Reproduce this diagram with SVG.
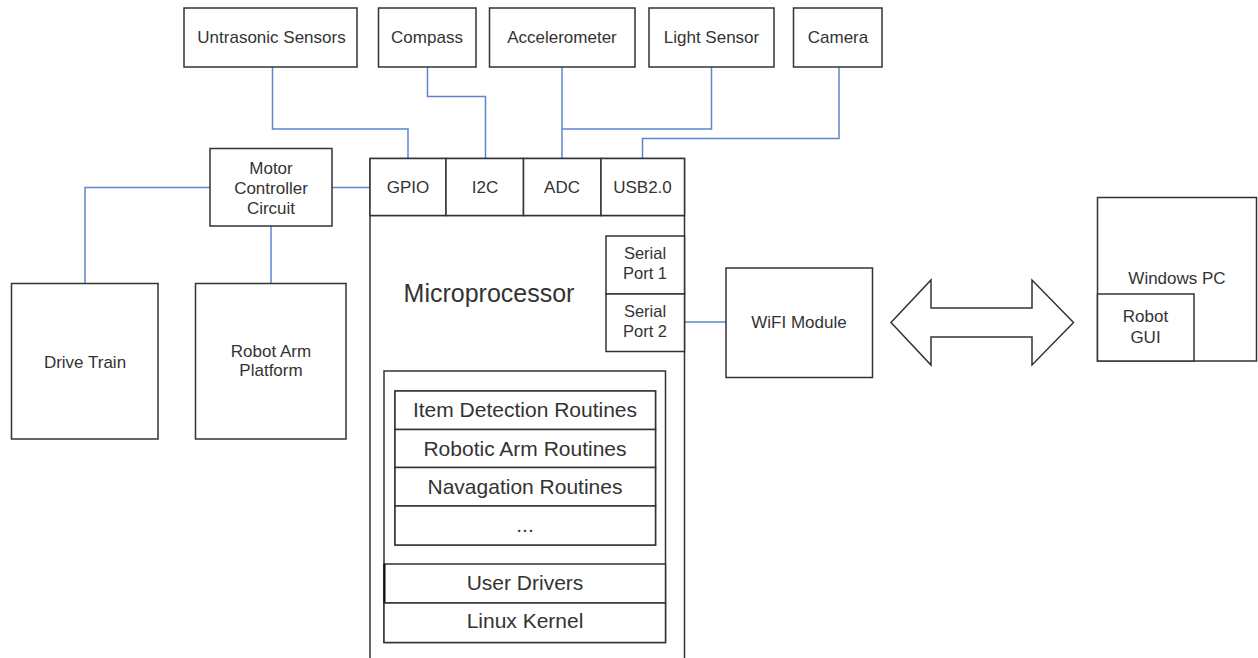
<svg xmlns="http://www.w3.org/2000/svg" width="1258" height="658" viewBox="0 0 1258 658">
<style>
.box{fill:#fff;stroke:#333;stroke-width:1.5}
.open{fill:none;stroke:#333;stroke-width:1.5}
.wire{fill:none;stroke:#5a87cc;stroke-width:1.5}
text{font-family:"Liberation Sans",Arial,sans-serif;fill:#333;text-anchor:middle}
.t17{font-size:17px}
.t16{font-size:16.5px}
.t21{font-size:21px}
.t25{font-size:25px}
</style>
<rect width="1258" height="658" fill="#fff"/>
<g id="connectors">
<polyline class="wire" points="272.5,67 272.5,129 408,129 408,158"/>
<polyline class="wire" points="427.5,67 427.5,96.5 485.5,96.5 485.5,158"/>
<polyline class="wire" points="562,67 562,158"/>
<polyline class="wire" points="711.5,67 711.5,129 562,129"/>
<polyline class="wire" points="839,67 839,138.5 642.5,138.5 642.5,158"/>
<polyline class="wire" points="331,187.5 370,187.5"/>
<polyline class="wire" points="210,187.5 85,187.5 85,283"/>
<polyline class="wire" points="271,226 271,283"/>
<polyline class="wire" points="684,322 726,322"/>
</g>
<g id="untrasonic"><rect class="box" x="184" y="8" width="173" height="59"/><text class="t17" x="271.5" y="43">Untrasonic Sensors</text></g>
<g id="compass"><rect class="box" x="378.5" y="8" width="97.5" height="59"/><text class="t17" x="427" y="43">Compass</text></g>
<g id="accelerometer"><rect class="box" x="489.5" y="8" width="145.5" height="59"/><text class="t17" x="562" y="43">Accelerometer</text></g>
<g id="lightsensor"><rect class="box" x="649" y="8" width="125" height="59"/><text class="t17" x="711.5" y="43">Light Sensor</text></g>
<g id="camera"><rect class="box" x="793.5" y="8" width="88.5" height="59"/><text class="t17" x="838" y="43">Camera</text></g>
<g id="motor"><rect class="box" x="210" y="148.5" width="122" height="77.5"/><text class="t17" x="271" y="174">Motor</text><text class="t17" x="271" y="194">Controller</text><text class="t17" x="271" y="214">Circuit</text></g>
<g id="drivetrain"><rect class="box" x="11.5" y="283.5" width="146.5" height="155.5"/><text class="t17" x="85" y="368">Drive Train</text></g>
<g id="robotarm"><rect class="box" x="195.5" y="283.5" width="150.5" height="155.5"/><text class="t17" x="271" y="357">Robot Arm</text><text class="t17" x="271" y="376">Platform</text></g>
<g id="microprocessor">
<path class="open" d="M370,660 V158.5 H684.5 V660"/>
<line class="open" x1="370" y1="215.5" x2="684.5" y2="215.5"/>
<text class="t25" x="489" y="302">Microprocessor</text>
</g>
<g id="gpio"><rect class="box" x="370" y="158.5" width="76" height="57"/><text class="t17" x="408" y="193">GPIO</text></g>
<g id="i2c"><rect class="box" x="446" y="158.5" width="77.5" height="57"/><text class="t17" x="485" y="193">I2C</text></g>
<g id="adc"><rect class="box" x="523.5" y="158.5" width="77.5" height="57"/><text class="t17" x="562" y="193">ADC</text></g>
<g id="usb"><rect class="box" x="601" y="158.5" width="83.5" height="57"/><text class="t17" x="642.5" y="193">USB2.0</text></g>
<g id="serial1"><rect class="box" x="606" y="236" width="78.5" height="58"/><text class="t16" x="645" y="259">Serial</text><text class="t16" x="645" y="279">Port 1</text></g>
<g id="serial2"><rect class="box" x="606" y="294" width="78.5" height="57.5"/><text class="t16" x="645" y="317">Serial</text><text class="t16" x="645" y="337">Port 2</text></g>
<g id="software"><rect class="box" x="384" y="371" width="281.5" height="271.5"/></g>
<g id="routines"><rect class="box" x="395" y="391" width="260.5" height="154"/></g>
<g id="itemdetection"><rect class="box" x="395" y="391" width="260.5" height="38.5"/><text class="t21" x="525" y="417">Item Detection Routines</text></g>
<g id="roboticarm"><rect class="box" x="395" y="429.5" width="260.5" height="38"/><text class="t21" x="525" y="456">Robotic Arm Routines</text></g>
<g id="navagation"><rect class="box" x="395" y="467.5" width="260.5" height="38.5"/><text class="t21" x="525" y="494">Navagation Routines</text></g>
<g id="more"><rect class="box" x="395" y="506" width="260.5" height="39"/><text class="t21" x="525" y="532">...</text></g>
<g id="userdrivers"><rect class="box" x="384" y="564" width="281.5" height="39"/><line x1="384.5" y1="564" x2="384.5" y2="603" stroke="#111" stroke-width="2"/><text class="t21" x="525" y="590">User Drivers</text></g>
<g id="linuxkernel"><rect class="box" x="384" y="603" width="281.5" height="39.5"/><text class="t21" x="525" y="628">Linux Kernel</text></g>
<g id="wifi"><rect class="box" x="726" y="268" width="146.5" height="109.5"/><text class="t17" x="799" y="328">WiFI Module</text></g>
<g id="link"><polygon class="box" points="891,322.5 931,280 931,308 1032,308 1032,280 1073.5,322.5 1032,365 1032,337 931,337 931,365"/></g>
<g id="windowspc"><rect class="box" x="1097.5" y="197.5" width="159" height="163.5"/><text class="t17" x="1177" y="284">Windows PC</text></g>
<g id="robotgui"><rect class="box" x="1097.5" y="294" width="96.5" height="67"/><text class="t17" x="1145.5" y="322">Robot</text><text class="t17" x="1145.5" y="343">GUI</text></g>
</svg>
